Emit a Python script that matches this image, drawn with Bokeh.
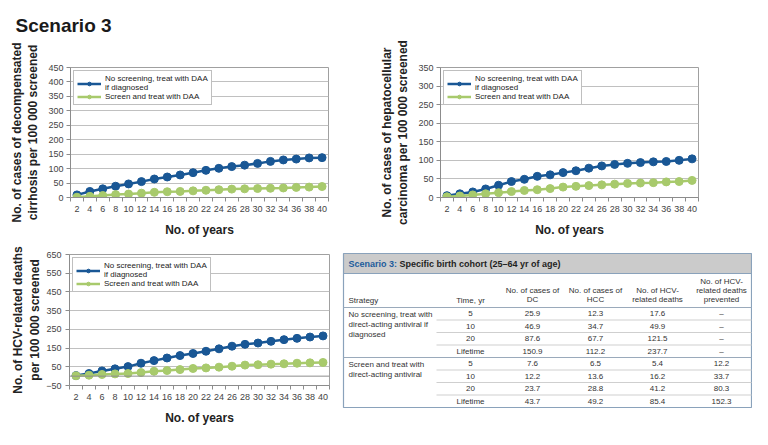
from bokeh.plotting import figure
from bokeh.models import Range1d, FixedTicker, Legend, LegendItem, Span
from bokeh.layouts import row, column
from bokeh.embed import file_html
from bokeh.resources import INLINE
from bokeh.core.properties import value

# ---------------- data ----------------
chart_title = "Scenario 3"
years = [2, 4, 6, 8, 10, 12, 14, 16, 18, 20, 22, 24, 26, 28, 30, 32, 34, 36, 38, 40]

dc_no_screen = [9, 21, 30, 39, 47, 55, 64, 71, 78, 86, 94, 101, 107, 112, 118, 125, 130, 133, 137, 138]
dc_screen = [1, 4, 7, 10, 12, 15, 18, 20, 21, 23, 25, 27, 29, 30, 31, 32, 33, 35, 36, 38]

hcc_no_screen = [5, 10, 15, 23, 33, 43, 49, 57, 61, 67, 72, 79, 85, 89, 92, 94, 96, 97, 100, 104]
hcc_screen = [2, 4, 7, 10, 13, 16, 19, 21, 24, 28, 30, 32, 34, 36, 38, 39, 40, 42, 43, 46]

deaths_no_screen = [3, 14, 28, 39, 51, 69, 83, 97, 110, 121, 133, 146, 160, 170, 177, 186, 195, 202, 209, 215]
deaths_screen = [2, 5, 9, 12, 14, 19, 26, 30, 35, 41, 44, 48, 53, 59, 61, 64, 66, 69, 71, 73]

series_names = ["No screening, treat with DAA\nif diagnosed", "Screen and treat with DAA"]

dc_ticks = [0, 50, 100, 150, 200, 250, 300, 350, 400, 450]
hcc_ticks = [0, 50, 100, 150, 200, 250, 300, 350]
death_ticks = [-50, 50, 150, 250, 350, 450, 550, 650]

# table data
table_title_a = "Scenario 3:"
table_title_b = "Specific birth cohort (25\u201364 yr of age)"
col_headers = ["Strategy", "Time, yr", "No. of cases of\nDC", "No. of cases of\nHCC",
               "No. of HCV-\nrelated deaths", "No. of HCV-\nrelated deaths\nprevented"]
strategies = ["No screening, treat with\ndirect-acting antiviral if\ndiagnosed",
              "Screen and treat with\ndirect-acting antiviral"]
times = ["5", "10", "20", "Lifetime"]
tab_dc = [[25.9, 46.9, 87.6, 150.9], [7.6, 12.2, 23.7, 43.7]]
tab_hcc = [[12.3, 34.7, 67.7, 112.2], [6.5, 13.6, 28.8, 49.2]]
tab_deaths = [[17.6, 49.9, 121.5, 237.7], [5.4, 16.2, 41.2, 85.4]]
tab_prevented = [[None, None, None, None], [12.2, 33.7, 80.3, 152.3]]

# ---------------- style ----------------
BLUE = "#195795"
GREEN = "#a8ca6c"
FONT = "Liberation Sans"
GRID = "#c0c0c0"
FRAME = "#a0a0a0"


def blank(width, height, xr, yr):
    f = figure(width=width, height=height, output_backend="svg", toolbar_location=None,
               x_range=Range1d(*xr), y_range=Range1d(*yr), frame_align=False,
               x_axis_location=None, y_axis_location=None, min_border=0)
    f.grid.visible = False
    f.outline_line_color = None
    f.border_fill_color = "white"
    return f


def make_chart(width, height, borders, ylabel, yr, yticks, blue_vals, green_vals,
               zero_line=False, tick_gap=3, label_gap=5):
    l, r, t, b = borders
    p = figure(width=width, height=height, output_backend="svg", toolbar_location=None,
               x_range=Range1d(1, 41), y_range=Range1d(*yr), frame_align=False,
               min_border_left=l, min_border_right=r, min_border_top=t, min_border_bottom=b)
    p.outline_line_color = FRAME
    p.outline_line_width = 1
    p.background_fill_color = "white"
    p.border_fill_color = "white"
    p.xgrid.visible = False
    p.ygrid.ticker = FixedTicker(ticks=yticks)
    p.ygrid.grid_line_color = GRID
    p.ygrid.grid_line_width = 1

    p.yaxis.ticker = FixedTicker(ticks=yticks)
    p.xaxis.ticker = FixedTicker(ticks=years, minor_ticks=list(range(1, 42, 2)))

    for ax in (p.xaxis[0], p.yaxis[0]):
        ax.axis_line_color = "#8c8c8c"
        ax.major_label_text_font = FONT
        ax.major_label_text_font_size = "9px"
        ax.major_label_text_color = "#444444"
        ax.axis_label_text_font = FONT
        ax.axis_label_text_font_size = "12px"
        ax.axis_label_text_font_style = "bold"
        ax.axis_label_text_color = "#222222"

    p.yaxis.major_tick_out = 4
    p.yaxis.major_tick_in = 0
    p.yaxis.major_tick_line_color = "#8c8c8c"
    p.yaxis.minor_tick_line_color = None
    p.yaxis.major_label_standoff = tick_gap
    p.yaxis.axis_label = ylabel
    p.yaxis.axis_label_standoff = label_gap

    p.xaxis.major_tick_line_color = None
    p.xaxis.major_tick_out = 4
    p.xaxis.major_tick_in = 0
    p.xaxis.minor_tick_out = 4
    p.xaxis.minor_tick_in = 0
    p.xaxis.minor_tick_line_color = "#8c8c8c"
    p.xaxis.major_label_standoff = 4
    p.xaxis.axis_label = "No. of years"
    p.xaxis.axis_label_standoff = 8

    if zero_line:
        p.add_layout(Span(location=0, dimension="width", line_color="#8c8c8c", line_width=1))

    lb = p.line(years, blue_vals, line_color=BLUE, line_width=2.5)
    sb = p.scatter(years, blue_vals, size=8, fill_color=BLUE, line_color=BLUE)
    lg = p.line(years, green_vals, line_color=GREEN, line_width=2.5)
    sg = p.scatter(years, green_vals, size=8, fill_color=GREEN, line_color=GREEN)

    legend = Legend(items=[LegendItem(label=series_names[0], renderers=[lb, sb]),
                           LegendItem(label=series_names[1], renderers=[lg, sg])],
                    location="top_left", margin=3, padding=3, spacing=0,
                    label_text_font=FONT, label_text_font_size="8px",
                    label_text_color="#222222", label_height=9, glyph_height=9,
                    glyph_width=24, label_standoff=4,
                    border_line_color="#808080", border_line_width=1,
                    background_fill_color="white", background_fill_alpha=1)
    p.add_layout(legend)
    return p


# page title (own strip above chart 1)
head = blank(376, 40, (0, 376), (40, 0))
head.text(x=[15], y=[25], text=[chart_title], text_font=value(FONT), text_font_size="19px",
          text_font_style="bold", text_color="#1a1a1a", text_baseline="alphabetic",
          text_align="left")

f1 = make_chart(376, 200, (70, 48, 27, 43),
                "No. of cases of decompensated\ncirrhosis per 100 000 screened",
                (0, 450), dc_ticks, dc_no_screen, dc_screen)

f2 = make_chart(376, 240, (62, 54, 67, 43),
                "No. of cases of hepatocellular\ncarcinoma per 100 000 screened",
                (0, 350), hcc_ticks, hcc_no_screen, hcc_screen)

f3 = make_chart(340, 189, (69, 11, 14, 44),
                "No. of HCV-related deaths\nper 100 000 screened",
                (-50, 650), death_ticks, deaths_no_screen, deaths_screen,
                zero_line=True, tick_gap=4, label_gap=1)

# ---------------- table ----------------
t = blank(412, 189, (340, 752), (429, 240))

TL, TR, TT, TB = 343, 751, 253, 407
BAND_B = 273
GROUP_TOP = [307, 357]
ROW_H = 12.5
BORDER = "#8aa2bb"

t.quad(left=[TL], right=[TR], top=[TT], bottom=[BAND_B], fill_color="#cbcbcb",
       line_color=None)
t.segment(x0=[TL], y0=[BAND_B], x1=[TR], y1=[BAND_B], line_color=BORDER, line_width=1)
t.quad(left=[TL], right=[TR], top=[TT], bottom=[TB], fill_color=None,
       line_color=BORDER, line_width=1.2)

txt = dict(text_font=value(FONT), text_font_size="8px", text_color="#333333")

t.text(x=[348], y=[263.5], text=[table_title_a], text_baseline="middle", text_align="left",
       text_font=value(FONT), text_font_size="9px", text_font_style="bold",
       text_color="#1d5c9c")
t.text(x=[399], y=[263.5], text=[table_title_b], text_baseline="middle", text_align="left",
       text_font=value(FONT), text_font_size="9px", text_font_style="bold",
       text_color="#1f1f1f")

col_x = [348, 470, 532, 595, 657, 721]
t.text(x=col_x[:1], y=[304], text=col_headers[:1], text_align="left",
       text_baseline="bottom", text_line_height=1.05, **txt)
t.text(x=col_x[1:], y=[304] * 5, text=col_headers[1:], text_align="center",
       text_baseline="bottom", text_line_height=1.05, **txt)

t.segment(x0=[TL, TL], y0=GROUP_TOP, x1=[TR, TR], y1=GROUP_TOP,
          line_color="#9aaabb", line_width=1)


def fmt(v):
    return "\u2013" if v is None else f"{v:.1f}"


for g in range(2):
    top = GROUP_TOP[g]
    ys = [top + ROW_H * (i + 0.5) for i in range(len(times))]
    t.text(x=[col_x[0]], y=[top + 2], text=[strategies[g]], text_align="left",
           text_baseline="top", text_line_height=1.15, **txt)
    t.text(x=[col_x[1]] * 4, y=ys, text=times, text_align="center",
           text_baseline="middle", **txt)
    for ci, arr in zip(range(2, 6), (tab_dc, tab_hcc, tab_deaths, tab_prevented)):
        t.text(x=[col_x[ci]] * 4, y=ys, text=[fmt(v) for v in arr[g]],
               text_align="center", text_baseline="middle", **txt)
    sep = [top + ROW_H * (i + 1) for i in range(len(times) - 1)]
    t.segment(x0=[436] * 3, y0=sep, x1=[TR] * 3, y1=sep, line_color="#cfcfcf",
              line_width=1)

layout = column(row(column(head, f1), f2), row(f3, t))
open("out.html", "w").write(file_html(layout, INLINE))
